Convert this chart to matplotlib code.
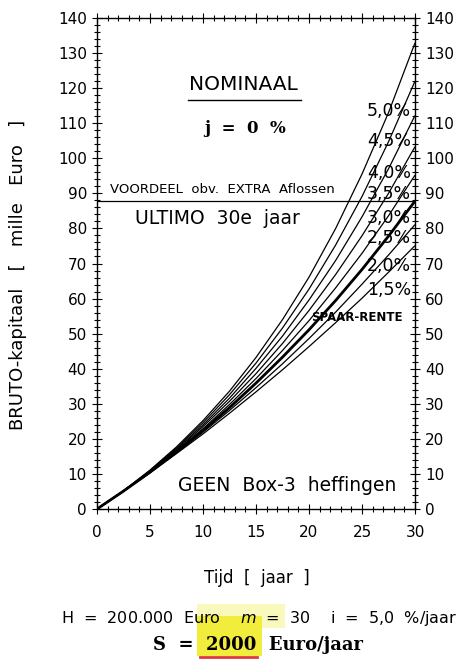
import matplotlib
matplotlib.use("Agg")
import matplotlib.pyplot as plt
from matplotlib.patches import Rectangle
from matplotlib.lines import Line2D

# Bruto-kapitaal (mille Euro), every 2.5 jaar
jaren = [0, 2.5, 5, 7.5, 10, 12.5, 15, 17.5, 20, 22.5, 25, 27.5, 30]
kap_50 = [0, 5.2, 11.1, 17.7, 25.2, 33.6, 43.2, 54.0, 66.1, 79.9, 95.5, 113.0, 132.9]
kap_45 = [0, 5.2, 10.9, 17.4, 24.6, 32.6, 41.6, 51.6, 62.7, 75.2, 89.1, 104.7, 122.0]
kap_40 = [0, 5.2, 10.8, 17.1, 24.0, 31.6, 40.1, 49.3, 59.6, 70.8, 83.3, 97.0, 112.2]
kap_35 = [0, 5.1, 10.7, 16.8, 23.5, 30.7, 38.6, 47.2, 56.6, 66.8, 77.9, 90.0, 103.3]
kap_30 = [0, 5.1, 10.6, 16.6, 22.9, 29.8, 37.2, 45.2, 53.7, 63.0, 72.9, 83.6, 95.2]
kap_25 = [0, 5.1, 10.5, 16.3, 22.4, 28.9, 35.9, 43.3, 51.1, 59.4, 68.3, 77.8, 87.8]
kap_20 = [0, 5.1, 10.4, 16.0, 21.9, 28.1, 34.6, 41.4, 48.6, 56.1, 64.1, 72.4, 81.1]
kap_15 = [0, 5.1, 10.3, 15.8, 21.4, 27.3, 33.4, 39.7, 46.3, 53.1, 60.1, 67.5, 75.1]

rente_labels = ["5,0%", "4,5%", "4,0%", "3,5%", "3,0%", "2,5%", "2,0%", "1,5%"]
label_y = [113.5, 104.9, 95.8, 89.8, 83.1, 77.4, 69.3, 62.4]
voordeel = 87.8  # eindwaarde spaar-rente (2,5%)

plt.rcParams["font.family"] = ["DejaVu Sans"]

fig = plt.figure(figsize=(4.65, 6.6), dpi=100)
ax = fig.add_axes([97 / 465, 151 / 660, 318 / 465, 491 / 660])

curves = [kap_50, kap_45, kap_40, kap_35, kap_30, kap_25, kap_20, kap_15]
for lbl, vals in zip(rente_labels, curves):
    lw = 2.0 if lbl == "2,5%" else 0.9
    ax.plot(jaren, vals, color="black", linewidth=lw, solid_capstyle="butt")

ax.axhline(voordeel, color="black", linewidth=0.9)

for lbl, yy in zip(rente_labels, label_y):
    ax.text(29.6, yy, lbl, ha="right", va="center", fontsize=12.5)

ax.text(28.8, 54.5, "SPAAR-RENTE", ha="right", va="center", fontsize=8.5,
        fontweight="bold")

ax.set_xlim(0, 30)
ax.set_ylim(0, 140)
ax.set_xticks(range(0, 31, 5))
ax.set_xticks(range(0, 31, 1), minor=True)
ax.set_yticks(range(0, 141, 10))
ax.set_yticks(range(0, 141, 2), minor=True)
ax.tick_params(which="both", direction="inout", top=True, right=True,
               labelright=True, width=0.8, labelsize=11)
ax.tick_params(which="major", length=6.5)
ax.tick_params(which="minor", length=4.3)
ax.tick_params(axis="x", pad=8)
ax.tick_params(axis="y", pad=4)
for s in ax.spines.values():
    s.set_linewidth(1.0)

# annotations inside the plot
ax.text(13.8, 121.0, "NOMINAAL", ha="center", va="center", fontsize=14.5)
ax.plot([8.6, 19.2], [116.6, 116.6], color="black", linewidth=1.0)
ax.text(14.0, 108.6, "j  =  0  %", ha="center", va="center", fontsize=12,
        family="DejaVu Serif", fontweight="bold")
ax.text(1.2, 91.0, "VOORDEEL  obv.  EXTRA  Aflossen", ha="left", va="center",
        fontsize=9.5)
ax.text(3.6, 82.7, "ULTIMO  30e  jaar", ha="left", va="center", fontsize=13.5)
ax.text(7.6, 6.8, "GEEN  Box-3  heffingen", ha="left", va="center", fontsize=13.5)

# labels outside the axes
fig.text(18 / 465, 1 - 275 / 660, "BRUTO-kapitaal   [   mille   Euro   ]",
         rotation=90, ha="center", va="center", fontsize=13)
fig.text(257 / 465, 1 - 578 / 660, "Tijd  [  jaar  ]", ha="center",
         va="center", fontsize=12)

fig.patches.append(Rectangle((197 / 465, 1 - 628 / 660), 88 / 465, 24 / 660,
                             transform=fig.transFigure, color="#f4f05a",
                             alpha=0.4, zorder=0, linewidth=0))
fig.patches.append(Rectangle((197 / 465, 1 - 656 / 660), 65 / 465, 40 / 660,
                             transform=fig.transFigure, color="#f2ec3c",
                             zorder=0, linewidth=0))
fig.lines.append(Line2D([200 / 465, 257 / 465], [1 - 657 / 660, 1 - 657 / 660],
                        transform=fig.transFigure, color="#e0383a", linewidth=2))

fig.text(259 / 465, 1 - 618 / 660,
         "H  =  200.000  Euro    $m$  =  30    i  =  5,0  %/jaar",
         ha="center", va="center", fontsize=11.5)
fig.text(258 / 465, 1 - 645 / 660, "S  =  2000  Euro/jaar", ha="center",
         va="center", fontsize=13, family="DejaVu Serif", fontweight="bold")

fig.savefig("out.png", dpi=100)
